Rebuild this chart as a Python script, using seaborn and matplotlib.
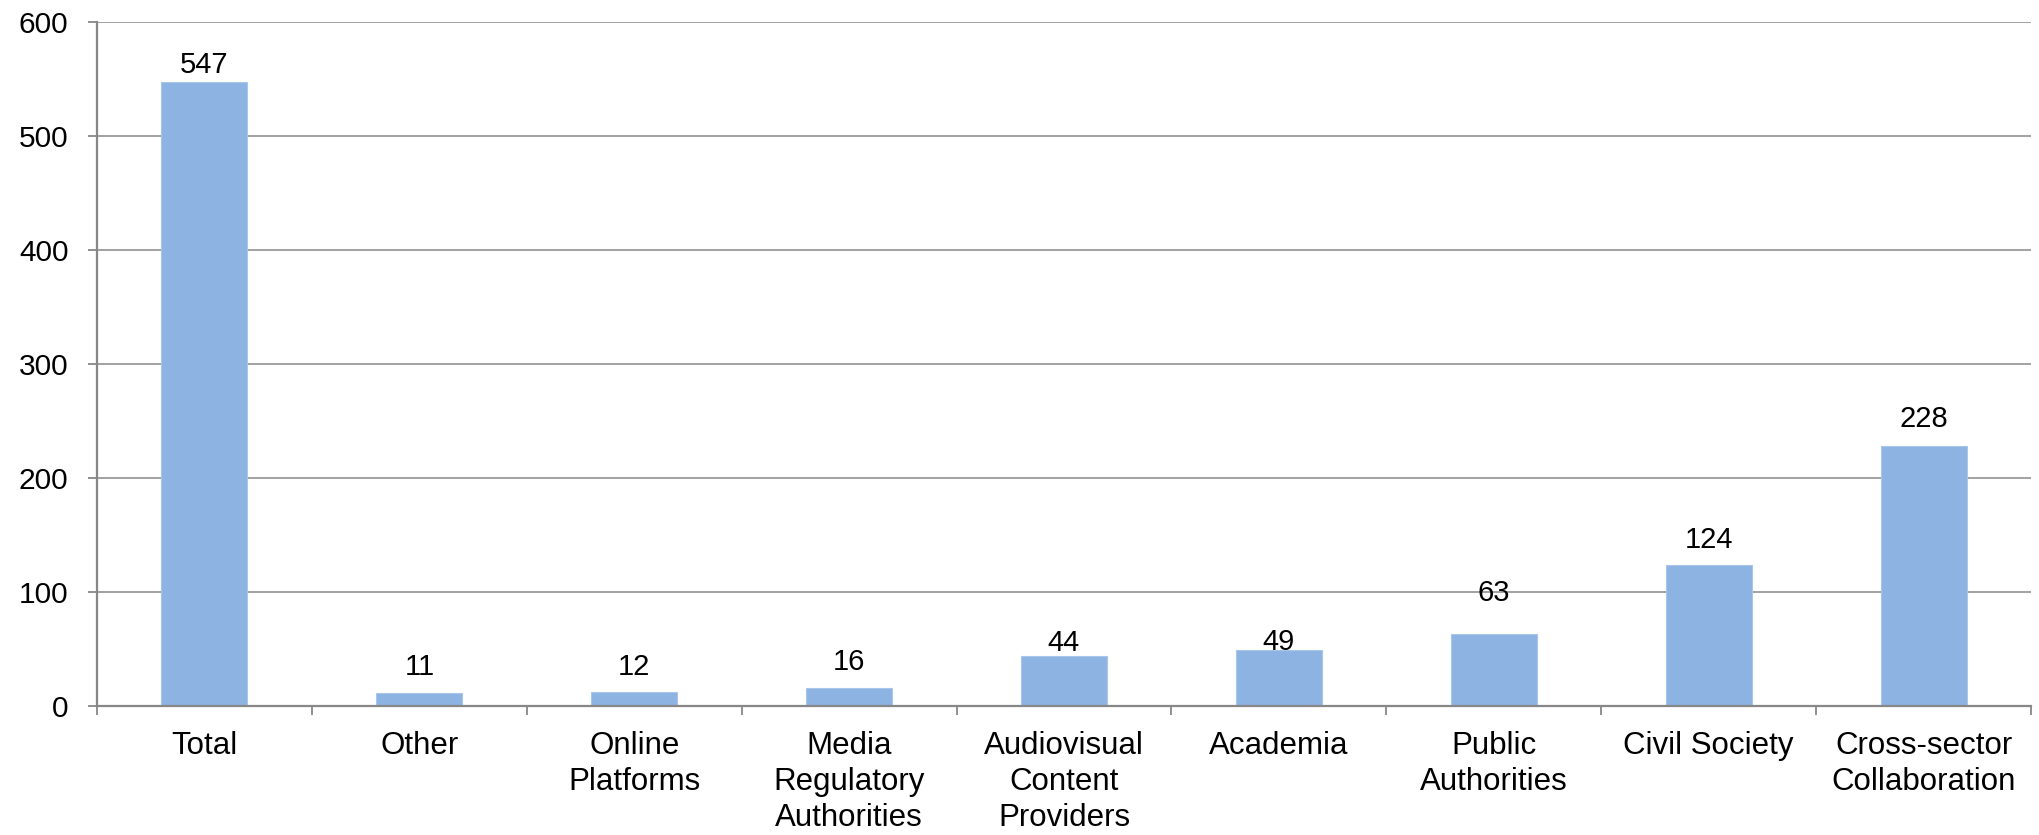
import matplotlib
matplotlib.use("Agg")
import matplotlib.pyplot as plt
from matplotlib.ticker import FixedLocator
import seaborn as sns
import pandas as pd

categories = ["Total", "Other", "Online\nPlatforms", "Media\nRegulatory\nAuthorities",
              "Audiovisual\nContent\nProviders", "Academia", "Public\nAuthorities",
              "Civil Society", "Cross-sector\nCollaboration"]
counts = [547, 11, 12, 16, 44, 49, 63, 124, 228]
y_ticks = [0, 100, 200, 300, 400, 500, 600]

# vertical gap (pixels) between each bar top and the baseline of its value label
label_gap_px = [9, 18, 17, 18, 5, 0, 33, 17, 19]

sns.set_theme(style="white")
plt.rcParams["font.family"] = ["Liberation Sans", "DejaVu Sans"]

DPI = 100
fig = plt.figure(figsize=(20.39, 8.35), dpi=DPI)
ax = fig.add_axes([97 / 2039, 1 - 706 / 835, (2031 - 97) / 2039, (706 - 22) / 835])

df = pd.DataFrame({"category": categories, "count": counts})
sns.barplot(data=df, x="category", y="count", color="#8DB3E2", saturation=1,
            width=0.4, ax=ax, edgecolor="#A9C6EA", linewidth=0.8)

ax.set_xlim(-0.5, len(categories) - 0.5)
ax.set_ylim(0, 600)
ax.set_yticks(y_ticks)
ax.set_xlabel("")
ax.set_ylabel("")

grid_col = "#878787"
ax.yaxis.grid(True, color=grid_col, linewidth=1.1)
ax.set_axisbelow(True)
for side in ["top", "right"]:
    ax.spines[side].set_visible(False)
for side in ["left", "bottom"]:
    ax.spines[side].set_color(grid_col)
    ax.spines[side].set_linewidth(1.6)

ax.tick_params(axis="y", length=6.5, width=1.3, color=grid_col, pad=14,
               labelsize=21.5, labelcolor="black", left=True)
ax.tick_params(axis="x", which="major", length=0, pad=18, labelsize=22.5,
               labelcolor="black")
ax.xaxis.set_minor_locator(FixedLocator([i - 0.5 for i in range(len(categories) + 1)]))
ax.tick_params(axis="x", which="minor", bottom=True, length=6.5, width=1.3,
               color=grid_col)
for lbl in ax.get_xticklabels():
    lbl.set_linespacing(1.26)
    lbl.set_verticalalignment("top")

for i, (v, gap) in enumerate(zip(counts, label_gap_px)):
    ax.annotate(str(v), xy=(i, v), xytext=(0, gap * 72 / DPI),
                textcoords="offset points", ha="center", va="baseline",
                fontsize=21, color="black")

fig.savefig("out.png", dpi=DPI)
